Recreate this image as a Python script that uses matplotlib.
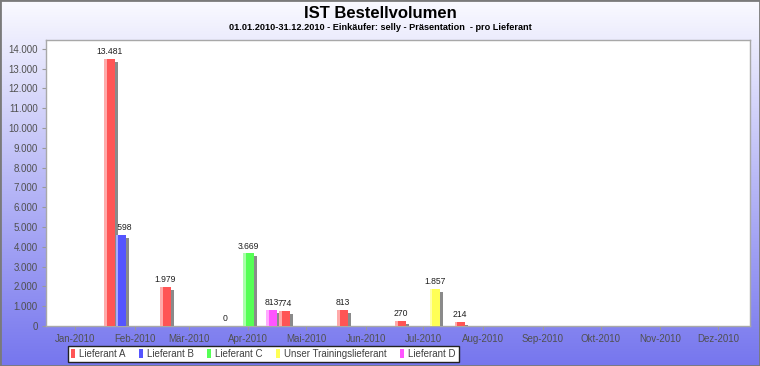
"""
IST Bestellvolumen - order volume per supplier, 2010.
"""

import numpy as np
import pandas as pd
import matplotlib
matplotlib.use('Agg')
import matplotlib.pyplot as plt
import matplotlib.dates as mdates
import matplotlib.transforms as mtransforms
from matplotlib.patches import Rectangle

# Values (order date, volume)
dates_a = ['2010-01-19', '2010-02-17', '2010-03-20', '2010-04-20',
           '2010-05-20', '2010-06-19', '2010-07-20']
values_a = [13481, 1979, 0, 774, 813, 270, 214]
dates_b = ['2010-01-25']
values_b = [4598]
dates_c = ['2010-04-01']
values_c = [3669]
dates_training = ['2010-07-07']
values_training = [1857]
dates_d = ['2010-04-13']
values_d = [813]

series_names = ['Lieferant A', 'Lieferant B', 'Lieferant C',
                'Unser Trainingslieferant', 'Lieferant D']
month_starts = pd.date_range('2010-01-01', '2010-12-01', freq='MS')
month_labels = ['Jan-2010', 'Feb-2010', 'Mär-2010', 'Apr-2010', 'Mai-2010', 'Jun-2010',
                'Jul-2010', 'Aug-2010', 'Sep-2010', 'Okt-2010', 'Nov-2010', 'Dez-2010']
y_ticks = list(range(0, 14001, 1000))

title = 'IST Bestellvolumen'
subtitle = '01.01.2010-31.12.2010 - Einkäufer: selly - Präsentation  - pro Lieferant'

colors = ['#FF5555', '#5555FF', '#55FF55', '#FFFF55', '#FF55FF']
FONT = 'Liberation Sans'


def de_format(v):
    return f'{v:,.0f}'.replace(',', '.')


def lighter(c, amount=0.5):
    rgb = np.array(matplotlib.colors.to_rgb(c))
    return tuple(rgb + (1 - rgb) * amount)


fig = plt.figure(figsize=(7.6, 3.66), dpi=100)

# chart background: white -> blue gradient
bg = fig.add_axes([0, 0, 1, 1], zorder=-10)
t = np.linspace(0, 1, 256)[:, None]
top = np.array([250, 250, 255]) / 255
bottom = np.array([118, 118, 238]) / 255
grad = top + (bottom - top) * t
bg.imshow(grad[:, None, :].repeat(2, axis=1), extent=[0, 1, 0, 1], aspect='auto',
          origin='upper', interpolation='bilinear')
bg.axis('off')
fig.patches.append(Rectangle((0, 0), 1, 1, transform=fig.transFigure, fill=False,
                             edgecolor='#7a7a7a', lw=2))

ax = fig.add_axes([46 / 760, 40 / 366, 704 / 760, 286 / 366])
ax.set_facecolor('white')

bar_w = 5.6      # days
stripe_w = 1.4   # lighter left edge
shadow = mtransforms.offset_copy(ax.transData, fig=fig, x=3, y=-3, units='dots')

all_series = [(dates_a, values_a), (dates_b, values_b), (dates_c, values_c),
              (dates_training, values_training), (dates_d, values_d)]

for (d, vals), col in zip(all_series, colors):
    x = mdates.date2num(pd.to_datetime(d))
    vals = np.array(vals)
    ax.bar(x, vals, width=bar_w, color='#8a8a8a', transform=shadow, zorder=3, lw=0)
    ax.bar(x, vals, width=bar_w, color=col, zorder=4, lw=0)
    ax.bar(x - bar_w / 2, vals, width=stripe_w, align='edge', color=lighter(col),
           zorder=5, lw=0)
    for xi, v in zip(x, vals):
        ax.annotate(de_format(v), (xi, v), xytext=(0, 2), textcoords='offset points',
                    ha='center', va='bottom', fontsize=6.2, family=FONT,
                    color='#202020', zorder=2)

ax.set_xlim(mdates.date2num(pd.Timestamp('2009-12-17')),
            mdates.date2num(pd.Timestamp('2010-12-17 14:00')))
ax.set_ylim(0, 14450)

ax.set_xticks(mdates.date2num(month_starts))
ax.set_xticklabels(month_labels)
ax.set_yticks(y_ticks)
ax.set_yticklabels([de_format(v) for v in y_ticks])

ax.tick_params(axis='both', labelsize=7, labelcolor='#505050', color='#999999',
               length=3, width=0.8, pad=3)
for lab in ax.get_xticklabels() + ax.get_yticklabels():
    lab.set_family(FONT)

for side in ['top', 'left', 'right', 'bottom']:
    ax.spines[side].set_color('#a8a8a8')
    ax.spines[side].set_linewidth(1.0)

fig.text(0.5, 1 - 13 / 366, title, ha='center', va='center', fontsize=12,
         fontweight='bold', family=FONT, color='black')
fig.text(0.5, 1 - 27 / 366, subtitle, ha='center', va='center', fontsize=6.6,
         fontweight='bold', family=FONT, color='black')

handles = [Rectangle((0, 0), 1, 1, facecolor=c, edgecolor='none') for c in colors]
leg = fig.legend(handles, series_names, loc='lower left',
                 bbox_to_anchor=(68 / 760, 4 / 366), ncol=5, frameon=True,
                 fancybox=False, edgecolor='#222222', framealpha=1,
                 prop={'family': FONT, 'size': 7}, handlelength=0.45,
                 handleheight=1.1, handletextpad=0.4, columnspacing=1.35,
                 borderpad=0.3, borderaxespad=0)
leg.get_frame().set_linewidth(1.0)
for txt in leg.get_texts():
    txt.set_color('#404040')

fig.savefig('out.png', dpi=100)
